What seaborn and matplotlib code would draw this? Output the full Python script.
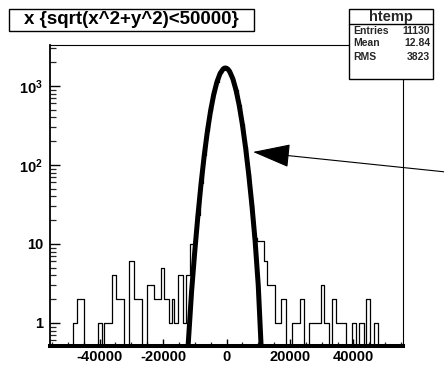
import numpy as np
import pandas as pd
import matplotlib
matplotlib.use("Agg")
import matplotlib.pyplot as plt
from matplotlib.patches import Rectangle
from matplotlib.lines import Line2D
from matplotlib.ticker import FixedLocator, FixedFormatter, MultipleLocator, NullFormatter, LogLocator
import seaborn as sns

# ---------------- data ----------------
bin_edges = [-49500, -48450, -47190, -44790, -40570, -39310, -38490, -36160, -34800,
             -32290, -30620, -29140, -26710, -25140, -22740, -20730, -19590,
             -18020, -17260, -16440, -15180, -13800, -12760, -11500, -10500,
             -9500, -8500, -7500, -6500, -5500, -4500, -3500, -2500, -1500,
             -500, 500, 1500, 2500, 3500, 4500, 5500, 6500, 7500, 8500, 9500,
             11700, 12760, 15370, 17170, 18840, 20630, 23250, 24320, 26080,
             29770, 30800, 32190, 33230, 34490, 37640, 39530, 40790, 41830,
             43210, 43940, 45290, 46360, 47620, 48700]
bin_counts = [0, 1, 2, 0, 1, 0, 1, 4, 2,
              0, 6, 2, 0, 3, 2, 5, 2,
              1, 2, 1, 4, 1, 4, 10,
              10, 23, 59, 133, 270, 488, 786, 1129, 1445, 1650,
              1678, 1522, 1231, 887, 570, 326, 167, 76, 31, 12,
              11, 6, 3, 1, 2, 0, 1, 2, 0,
              1, 3, 1, 0, 2, 1, 0, 1, 0,
              1, 0, 2, 0, 1, 0]
fit_x = [-12100, -11000, -10000, -9000, -8000, -7000, -6000, -5000, -4000,
         -3000, -2000, -1000, -500, 0, 500, 1000, 2000, 3000, 4000, 5000,
         6000, 7000, 8000, 9000, 10000, 10900]
fit_y = [0.51, 2.5, 8.0, 22.9, 58.6, 133, 270, 488, 786,
         1129, 1445, 1650, 1688, 1678, 1621, 1522, 1231, 887, 570, 326,
         167, 76, 31, 11.1, 3.0, 0.51]
x_ticks = [-40000, -20000, 0, 20000, 40000]
x_tick_labels = ["-40000", "-20000", "0", "20000", "40000"]
y_ticks = [1, 10, 100, 1000]
y_tick_labels = ["1", "10", r"$\mathbf{10^{2}}$", r"$\mathbf{10^{3}}$"]
title_text = "x {sqrt(x^2+y^2)<50000}"
stats_name = "htemp"
stats_labels = ["Entries", "Mean", "RMS"]
stats_values = ["11130", "12.84", "3823"]

# ---------------- style ----------------
sns.set_style("ticks")
plt.rcParams["font.family"] = ["Liberation Sans", "DejaVu Sans"]
plt.rcParams["font.weight"] = "bold"
plt.rcParams["mathtext.fontset"] = "custom"
plt.rcParams["mathtext.rm"] = "Liberation Sans:bold"
plt.rcParams["mathtext.bf"] = "Liberation Sans:bold"
plt.rcParams["mathtext.it"] = "Liberation Sans:bold"

W, H = 444, 369
fig = plt.figure(figsize=(W / 100, H / 100), dpi=100)
fig.patch.set_facecolor("white")
ax = fig.add_axes([50 / W, 23 / H, 353 / W, 301 / H])
ax.set_facecolor("white")

centers = [(a + b) / 2 for a, b in zip(bin_edges[:-1], bin_edges[1:])]
df = pd.DataFrame({"x": centers, "w": bin_counts})
sns.histplot(data=df, x="x", weights="w", bins=bin_edges, element="step",
             fill=False, color="black", linewidth=0.9, ax=ax)
sns.lineplot(x=fit_x, y=fit_y, color="black", linewidth=3.6, ax=ax,
             solid_joinstyle="round", solid_capstyle="butt")

ax.set_yscale("log")
ax.set_xlim(-55600, 55600)
ax.set_ylim(0.51, 3300)
ax.set_xlabel("")
ax.set_ylabel("")

ax.xaxis.set_major_locator(FixedLocator(x_ticks))
ax.xaxis.set_major_formatter(FixedFormatter(x_tick_labels))
ax.xaxis.set_minor_locator(MultipleLocator(5000))
ax.yaxis.set_major_locator(FixedLocator(y_ticks))
ax.yaxis.set_major_formatter(FixedFormatter(y_tick_labels))
ax.yaxis.set_minor_locator(LogLocator(base=10, subs=np.arange(2, 10)))
ax.yaxis.set_minor_formatter(NullFormatter())

ax.tick_params(axis="y", which="major", direction="in", length=7, width=1.0,
               labelsize=10.5, pad=5, colors="black", right=False)
ax.tick_params(axis="y", which="minor", direction="in", length=4, width=0.9,
               right=False)
ax.tick_params(axis="x", which="major", direction="in", length=5, width=1.0,
               labelsize=10.5, pad=3, colors="black", top=False)
ax.tick_params(axis="x", which="minor", direction="in", length=3, width=0.9,
               top=False)
for lab in ax.get_xticklabels() + ax.get_yticklabels():
    lab.set_fontweight("bold")

for side in ["top", "right"]:
    ax.spines[side].set_visible(True)
    ax.spines[side].set_linewidth(0.8)
    ax.spines[side].set_color("black")
ax.spines["left"].set_linewidth(1.3)
ax.spines["left"].set_color("black")
ax.spines["bottom"].set_linewidth(2.9)
ax.spines["bottom"].set_color("black")

# arrow annotation
ax.annotate("", xy=(8350, 146), xycoords="data", xytext=(446, 197),
            textcoords="figure pixels", annotation_clip=False,
            arrowprops=dict(arrowstyle="-|>,head_length=2.4,head_width=0.75",
                            mutation_scale=10, color="black", lw=0.8,
                            shrinkA=0, shrinkB=0))


def fx(px):
    return px / W


def fy(py):
    return 1 - py / H


# title box
fig.add_artist(Rectangle((fx(9), fy(31)), (254 - 9) / W, 22 / H,
                         transform=fig.transFigure, facecolor="white",
                         edgecolor="black", linewidth=1.0, zorder=5))
fig.text(fx(131.5), fy(20), title_text, ha="center", va="center",
         fontsize=13.5, fontweight="bold", color="black", zorder=6)

# stats box
fig.add_artist(Rectangle((fx(349), fy(79)), (433 - 349) / W, 70 / H,
                         transform=fig.transFigure, facecolor="white",
                         edgecolor="black", linewidth=1.0, zorder=5))
fig.add_artist(Line2D([fx(349), fx(433)], [fy(24), fy(24)],
                      transform=fig.transFigure, color="black", lw=1.0, zorder=6))
fig.text(fx(391), fy(16.5), stats_name, ha="center", va="center",
         fontsize=10.5, fontweight="bold", zorder=7)
for i, (lab, val) in enumerate(zip(stats_labels, stats_values)):
    yy = fy(30.5 + 13 * i)
    fig.text(fx(353), yy, lab, ha="left", va="center", fontsize=7.5,
             fontweight="bold", zorder=7)
    fig.text(fx(430), yy, val, ha="right", va="center", fontsize=7.5,
             fontweight="bold", zorder=7)

fig.savefig("out.png", dpi=100, facecolor="white")
